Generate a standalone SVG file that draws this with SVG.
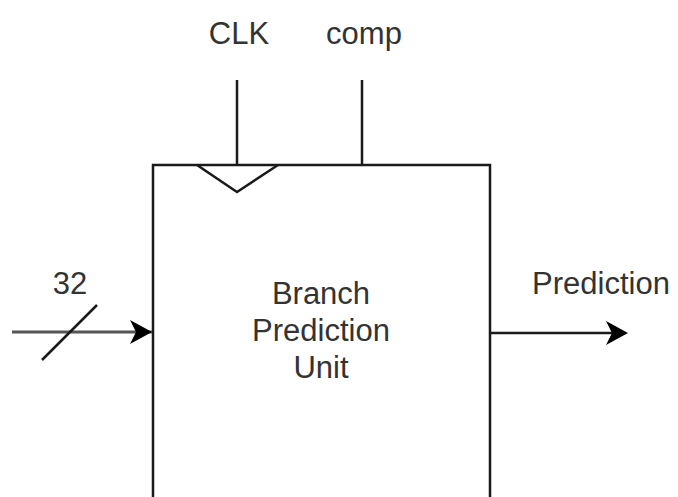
<svg xmlns="http://www.w3.org/2000/svg" width="678" height="497" viewBox="0 0 678 497">
  <style>
    .ln { stroke: #1a1a1a; stroke-width: 2.5; fill: none; }
    .lbl { font-family: "Liberation Sans", Arial, sans-serif; font-size: 31px; fill: #333; text-anchor: middle; }
  </style>
  <defs>
    <marker id="arrow" markerWidth="10" markerHeight="10" refX="9" refY="5" orient="auto" markerUnits="userSpaceOnUse" viewBox="0 0 10 10">
      <path d="M0,0 L10,5 L0,10 L2.5,5 Z" fill="#000"/>
    </marker>
  </defs>
  <rect width="678" height="497" fill="#fff"/>

  <g id="bpu">
    <path class="ln" d="M153,497 V165 H490 V497"/>
    <path class="ln" d="M197,165 L237,192 L278,165"/>
    <text class="lbl" x="321" y="304">Branch</text>
    <text class="lbl" x="321" y="341">Prediction</text>
    <text class="lbl" x="321" y="378">Unit</text>
  </g>

  <g id="labels">
    <text class="lbl" x="239" y="44">CLK</text>
    <text class="lbl" x="364" y="44">comp</text>
    <text class="lbl" x="70" y="294">32</text>
    <text class="lbl" x="601" y="294">Prediction</text>
  </g>

  <g id="connectors">
    <line class="ln" x1="237" y1="80" x2="237" y2="165"/>
    <line class="ln" x1="362" y1="80" x2="362" y2="165"/>
    <path d="M12,332 H152" stroke="#555" stroke-width="3" fill="none"/>
    <path d="M130,320 L152,332 L130,344 L136,332 Z" fill="#000"/>
    <line class="ln" x1="42" y1="360" x2="97" y2="305"/>
    <path class="ln" d="M490,333 H612"/>
    <path d="M606,321 L628,333 L606,345 L612,333 Z" fill="#000"/>
  </g>
</svg>
